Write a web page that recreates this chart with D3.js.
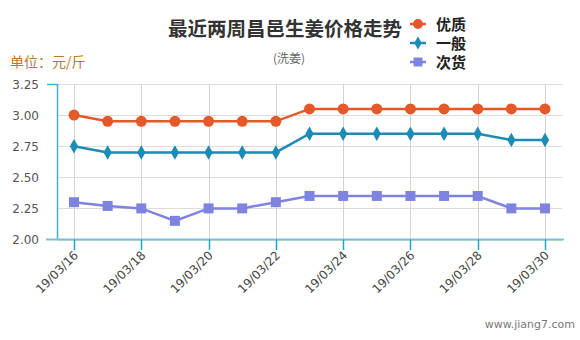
<!DOCTYPE html>
<html><head><meta charset="utf-8">
<script src="https://cdn.jsdelivr.net/npm/d3@7"></script>
<style>body{margin:0;background:#fff;}svg{display:block;}</style>
</head><body><svg id="c" width="580" height="340"></svg>
<script>
const dates = ["19/03/16","19/03/17","19/03/18","19/03/19","19/03/20","19/03/21","19/03/22","19/03/23","19/03/24","19/03/25","19/03/26","19/03/27","19/03/28","19/03/29","19/03/30"];
const youzhi = [3.00,2.95,2.95,2.95,2.95,2.95,2.95,3.05,3.05,3.05,3.05,3.05,3.05,3.05,3.05];
const yiban  = [2.75,2.70,2.70,2.70,2.70,2.70,2.70,2.85,2.85,2.85,2.85,2.85,2.85,2.80,2.80];
const cihuo  = [2.30,2.27,2.25,2.15,2.25,2.25,2.30,2.35,2.35,2.35,2.35,2.35,2.35,2.25,2.25];
const yTicks = [2.00,2.25,2.50,2.75,3.00,3.25];
const seriesNames = ["优质","一般","次货"];
const colors = ["#e5582a","#1a8cb5","#7f83e0"];
const symbols = [d3.symbolCircle, d3.symbolDiamond, d3.symbolSquare];
const symSizes = [95, 60, 100];
const allSeries = [youzhi, yiban, cihuo];

const svg = d3.select("#c");
const font = "'Noto Sans CJK SC','DejaVu Sans',sans-serif";
const latin = "'DejaVu Sans',sans-serif";
const x = d3.scalePoint().domain(dates).range([74, 545]);
const y = d3.scaleLinear().domain([2.0, 3.25]).range([239.5, 84]);
const left = 57.5, right = 562;

// horizontal grid
svg.append("g").selectAll("line").data(yTicks).join("line")
  .attr("x1", left).attr("x2", right)
  .attr("y1", d => Math.round(y(d)) + 0.5).attr("y2", d => Math.round(y(d)) + 0.5)
  .attr("stroke", "#dcdcdc").attr("stroke-width", 1);
// vertical grid (every 2 days)
const tickDates = dates.filter((d, i) => i % 2 === 0);
svg.append("g").selectAll("line").data(tickDates).join("line")
  .attr("x1", d => Math.round(x(d)) + 0.5).attr("x2", d => Math.round(x(d)) + 0.5)
  .attr("y1", 84).attr("y2", 239.5)
  .attr("stroke", "#d4d4d4").attr("stroke-width", 1);

// y axis labels
svg.append("g").selectAll("text").data(yTicks).join("text")
  .attr("x", 39).attr("y", d => y(d) + 4.5).attr("text-anchor", "end")
  .attr("font-family", latin).attr("font-size", 12).attr("fill", "#555")
  .text(d => d.toFixed(2));
// y axis line
const axisColor = "#3fb3cf";
svg.append("line").attr("x1", left).attr("x2", left).attr("y1", 84).attr("y2", 239.5)
  .attr("stroke", axisColor).attr("stroke-width", 1.5);
svg.append("line").attr("x1", 47).attr("x2", left).attr("y1", 84.5).attr("y2", 84.5)
  .attr("stroke", axisColor).attr("stroke-width", 1.5);
// x axis line
svg.append("line").attr("x1", 46).attr("x2", 564).attr("y1", 239.5).attr("y2", 239.5)
  .attr("stroke", "#7cc0d4").attr("stroke-width", 2);
// x ticks
svg.append("g").selectAll("line").data(tickDates).join("line")
  .attr("x1", d => Math.round(x(d)) + 0.5).attr("x2", d => Math.round(x(d)) + 0.5)
  .attr("y1", 239.5).attr("y2", 250)
  .attr("stroke", "#1ba8c8").attr("stroke-width", 1.5);
// x labels rotated
svg.append("g").selectAll("text").data(tickDates).join("text")
  .attr("transform", d => `translate(${x(d) + 5},${256}) rotate(-45)`)
  .attr("text-anchor", "end")
  .attr("font-family", latin).attr("font-size", 12).attr("fill", "#444")
  .text(d => d);

// lines and markers
const line = d3.line().x((d, i) => x(dates[i])).y(d => y(d));
allSeries.forEach((s, k) => {
  svg.append("path").datum(s).attr("d", line)
    .attr("fill", "none").attr("stroke", colors[k]).attr("stroke-width", 2.5);
  svg.append("g").selectAll("path").data(s).join("path")
    .attr("transform", (d, i) => `translate(${x(dates[i])},${y(d)})`)
    .attr("d", d3.symbol().type(symbols[k]).size(symSizes[k]))
    .attr("fill", colors[k]);
});

// title
svg.append("text").attr("x", 285).attr("y", 36).attr("text-anchor", "middle")
  .attr("font-family", font).attr("font-size", 19.5).attr("font-weight", "bold").attr("fill", "#333")
  .text("最近两周昌邑生姜价格走势");
svg.append("text").attr("x", 289).attr("y", 63).attr("text-anchor", "middle")
  .attr("font-family", font).attr("font-size", 12).attr("fill", "#666")
  .text("(洗姜)");
svg.append("text").attr("x", 10).attr("y", 67)
  .attr("font-family", font).attr("font-size", 14).attr("fill", "#b87a30")
  .text("单位：元/斤");

// legend
const legY = [24, 43, 62];
seriesNames.forEach((n, k) => {
  const g = svg.append("g").attr("transform", `translate(418,${legY[k]})`);
  g.append("line").attr("x1", -8).attr("x2", 8).attr("y1", 0).attr("y2", 0)
    .attr("stroke", colors[k]).attr("stroke-width", 2.5);
  g.append("path").attr("d", d3.symbol().type(symbols[k]).size(symSizes[k] * 0.8)).attr("fill", colors[k]);
  g.append("text").attr("x", 18).attr("y", 5.5)
    .attr("font-family", font).attr("font-size", 15).attr("font-weight", "bold").attr("fill", "#222")
    .text(n);
});

// watermark
svg.append("text").attr("x", 575).attr("y", 328).attr("text-anchor", "end")
  .attr("font-family", latin).attr("font-size", 11).attr("fill", "#777")
  .text("www.jiang7.com");
</script></body></html>
